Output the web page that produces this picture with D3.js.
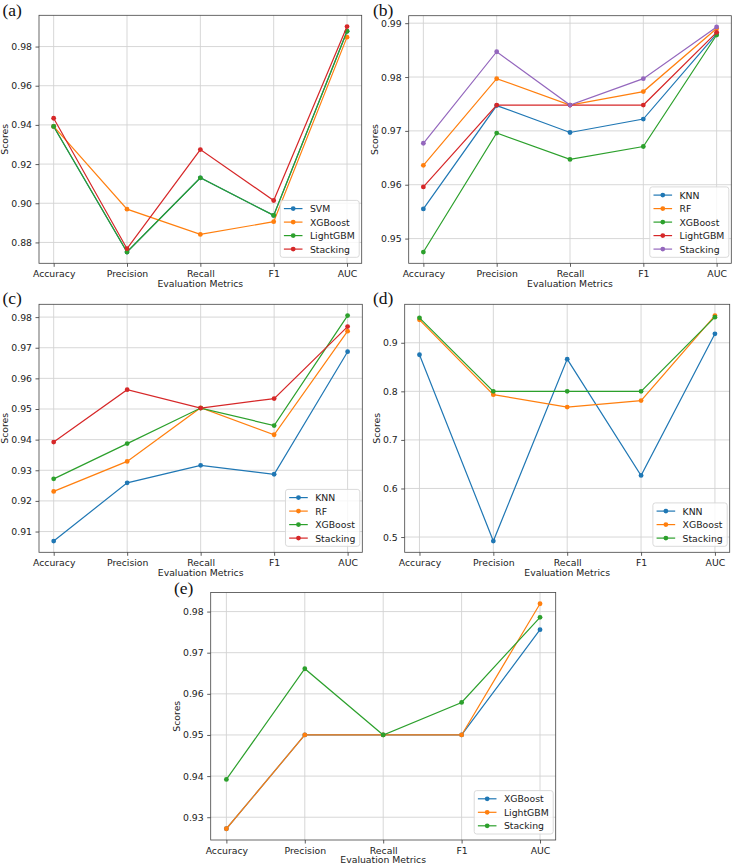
<!DOCTYPE html>
<html><head><meta charset="utf-8">
<script src="https://cdn.jsdelivr.net/npm/d3@7"></script>
<style>
html,body{margin:0;padding:0;background:#fff;}
svg{display:block;}
text{font-family:"DejaVu Sans",sans-serif;fill:#222;}
text.tag{font-family:"Liberation Serif","Times New Roman",serif;fill:#111;}
</style></head>
<body>
<svg id="chart" width="736" height="866"></svg>
<script>
const categories = ["Accuracy", "Precision", "Recall", "F1", "AUC"];

// Panel (a)
const a_series = ["SVM", "XGBoost", "LightGBM", "Stacking"];
const a_SVM      = [0.9392, 0.8751, 0.9130, 0.8938, 0.9878];
const a_XGBoost  = [0.9392, 0.8970, 0.8841, 0.8906, 0.9848];
const a_LightGBM = [0.9392, 0.8751, 0.9130, 0.8938, 0.9878];
const a_Stacking = [0.9434, 0.8768, 0.9274, 0.9014, 0.9902];
const a_ticks = [0.88, 0.90, 0.92, 0.94, 0.96, 0.98];
const a_tickLabels = ["0.88", "0.90", "0.92", "0.94", "0.96", "0.98"];

// Panel (b)
const b_series = ["KNN", "RF", "XGBoost", "LightGBM", "Stacking"];
const b_KNN      = [0.9555, 0.9747, 0.9697, 0.9722, 0.9880];
const b_RF       = [0.9636, 0.9797, 0.9748, 0.9773, 0.9890];
const b_XGBoost  = [0.9475, 0.9696, 0.9647, 0.9671, 0.9878];
const b_LightGBM = [0.9596, 0.9748, 0.9748, 0.9748, 0.9883];
const b_Stacking = [0.9677, 0.9847, 0.9748, 0.9797, 0.9893];
const b_ticks = [0.95, 0.96, 0.97, 0.98, 0.99];
const b_tickLabels = ["0.95", "0.96", "0.97", "0.98", "0.99"];

// Panel (c)
const c_series = ["KNN", "RF", "XGBoost", "Stacking"];
const c_KNN      = [0.9069, 0.9259, 0.9316, 0.9287, 0.9687];
const c_RF       = [0.9231, 0.9329, 0.9504, 0.9416, 0.9754];
const c_XGBoost  = [0.9272, 0.9387, 0.9503, 0.9446, 0.9805];
const c_Stacking = [0.9392, 0.9563, 0.9503, 0.9534, 0.9769];
const c_ticks = [0.91, 0.92, 0.93, 0.94, 0.95, 0.96, 0.97, 0.98];
const c_tickLabels = ["0.91", "0.92", "0.93", "0.94", "0.95", "0.96", "0.97", "0.98"];

// Panel (d)
const d_series = ["KNN", "XGBoost", "Stacking"];
const d_KNN      = [0.8753, 0.4918, 0.8663, 0.6268, 0.9185];
const d_XGBoost  = [0.9473, 0.7932, 0.7677, 0.7810, 0.9560];
const d_Stacking = [0.9514, 0.8000, 0.8000, 0.8000, 0.9528];
const d_ticks = [0.5, 0.6, 0.7, 0.8, 0.9];
const d_tickLabels = ["0.5", "0.6", "0.7", "0.8", "0.9"];

// Panel (e)
const e_series = ["XGBoost", "LightGBM", "Stacking"];
const e_XGBoost  = [0.9272, 0.9500, 0.9500, 0.9500, 0.9756];
const e_LightGBM = [0.9272, 0.9500, 0.9500, 0.9500, 0.9819];
const e_Stacking = [0.9392, 0.9661, 0.9500, 0.9579, 0.9786];
const e_ticks = [0.93, 0.94, 0.95, 0.96, 0.97, 0.98];
const e_tickLabels = ["0.93", "0.94", "0.95", "0.96", "0.97", "0.98"];

const xLabel = "Evaluation Metrics";
const yLabel = "Scores";

const tab10 = ["#1f77b4", "#ff7f0e", "#2ca02c", "#d62728", "#9467bd"];

const panels = [
  {tag: "(a)", tagPos: [2.5, 15.6], box: [39, 15.3, 361.7, 263.3], names: a_series,
   values: [a_SVM, a_XGBoost, a_LightGBM, a_Stacking], colors: [0,1,2,3], ticks: a_ticks, tickLabels: a_tickLabels},
  {tag: "(b)", tagPos: [373, 15.6], box: [408.7, 15.7, 731.3, 263.3], names: b_series,
   values: [b_KNN, b_RF, b_XGBoost, b_LightGBM, b_Stacking], colors: [0,1,2,3,4], ticks: b_ticks, tickLabels: b_tickLabels},
  {tag: "(c)", tagPos: [2.5, 303.5], box: [39, 304.3, 362.3, 552.3], names: c_series,
   values: [c_KNN, c_RF, c_XGBoost, c_Stacking], colors: [0,1,2,3], ticks: c_ticks, tickLabels: c_tickLabels},
  {tag: "(d)", tagPos: [373, 303.5], box: [404.7, 304.3, 729.7, 552.3], names: d_series,
   values: [d_KNN, d_XGBoost, d_Stacking], colors: [0,1,2], ticks: d_ticks, tickLabels: d_tickLabels},
  {tag: "(e)", tagPos: [174, 594], box: [210.7, 592.5, 555.7, 840], names: e_series,
   values: [e_XGBoost, e_LightGBM, e_Stacking], colors: [0,1,2], ticks: e_ticks, tickLabels: e_tickLabels}
];

const svg = d3.select("#chart");
const FS = 9.3;

panels.forEach(p => {
  const [x0, y0, x1, y1] = p.box;
  const g = svg.append("g");
  const all = p.values.flat();
  const mn = d3.min(all), mx = d3.max(all), pad = (mx - mn) * 0.05;
  const y = d3.scaleLinear().domain([mn - pad, mx + pad]).range([y1, y0]);
  const xl = d3.scaleLinear().domain([-0.2, categories.length - 1 + 0.2]).range([x0, x1]);
  const x = c => xl(categories.indexOf(c));

  // grid
  g.append("g").selectAll("line.h").data(p.ticks).join("line")
    .attr("x1", x0).attr("x2", x1).attr("y1", d => y(d)).attr("y2", d => y(d))
    .attr("stroke", "#d2d2d2").attr("stroke-width", 0.9);
  g.append("g").selectAll("line.v").data(categories).join("line")
    .attr("x1", d => x(d)).attr("x2", d => x(d)).attr("y1", y0).attr("y2", y1)
    .attr("stroke", "#d2d2d2").attr("stroke-width", 0.9);

  // axes
  const yAxis = d3.axisLeft(y).tickValues(p.ticks).tickFormat((d, i) => p.tickLabels[i])
    .tickSize(3.5).tickPadding(3.5);
  const ya = g.append("g").attr("transform", `translate(${x0},0)`).call(yAxis);
  const xAxis = d3.axisBottom(xl).tickValues(d3.range(categories.length))
    .tickFormat(i => categories[i]).tickSize(3.5).tickPadding(3.5);
  const xa = g.append("g").attr("transform", `translate(0,${y1})`).call(xAxis);
  [ya, xa].forEach(a => {
    a.select(".domain").remove();
    a.selectAll(".tick line").attr("stroke", "#333").attr("stroke-width", 0.8);
    a.selectAll(".tick text").attr("font-size", FS).attr("font-family", "DejaVu Sans").attr("fill", "#222");
  });

  // frame
  g.append("rect").attr("x", x0).attr("y", y0).attr("width", x1 - x0).attr("height", y1 - y0)
    .attr("fill", "none").attr("stroke", "#444").attr("stroke-width", 0.8);

  // series
  const line = d3.line().x((d, i) => x(categories[i])).y(d => y(d));
  p.values.forEach((vals, si) => {
    const col = tab10[p.colors[si]];
    const sg = g.append("g");
    sg.append("path").attr("d", line(vals)).attr("fill", "none").attr("stroke", col).attr("stroke-width", 1.2);
    sg.selectAll("circle").data(vals).join("circle")
      .attr("cx", (d, i) => x(categories[i])).attr("cy", d => y(d)).attr("r", 2.4).attr("fill", col);
  });

  // labels
  const yb = ya.node().getBBox();
  g.append("text").attr("transform", `translate(${x0 + yb.x - 5.5},${(y0 + y1) / 2}) rotate(-90)`)
    .attr("text-anchor", "middle").attr("dominant-baseline", "middle").attr("font-size", FS).text(yLabel);
  g.append("text").attr("x", (x0 + x1) / 2).attr("y", y1 + 23.3).attr("text-anchor", "middle")
    .attr("font-size", FS).text(xLabel);
  g.append("text").attr("class", "tag").attr("x", p.tagPos[0]).attr("y", p.tagPos[1])
    .attr("font-size", 17.5).text(p.tag);

  // legend
  const n = p.names.length, rowH = 13.5, padY = 8.2, handle = 18.6;
  const lg = g.append("g");
  const texts = p.names.map((nm, i) => lg.append("text").attr("font-size", FS).attr("dominant-baseline", "central").text(nm));
  const tw = d3.max(texts, t => t.node().getComputedTextLength());
  const w = 3.7 + handle + 7.4 + tw + 4.5;
  const h = padY * 2 + (n - 1) * rowH;
  const lx = x1 - 2.5 - w, ly = y1 - 6 - h;
  lg.insert("rect", "text").attr("x", lx).attr("y", ly).attr("width", w).attr("height", h)
    .attr("rx", 2.5).attr("fill", "#fff").attr("fill-opacity", 0.8).attr("stroke", "#d6d6d6").attr("stroke-width", 0.9);
  p.names.forEach((nm, i) => {
    const cy = ly + padY + i * rowH;
    const col = tab10[p.colors[i]];
    lg.append("line").attr("x1", lx + 3.7).attr("x2", lx + 3.7 + handle).attr("y1", cy).attr("y2", cy)
      .attr("stroke", col).attr("stroke-width", 1.2);
    lg.append("circle").attr("cx", lx + 3.7 + handle / 2).attr("cy", cy).attr("r", 2.4).attr("fill", col);
    texts[i].attr("x", lx + 3.7 + handle + 7.4).attr("y", cy);
  });
});
</script>
</body></html>
